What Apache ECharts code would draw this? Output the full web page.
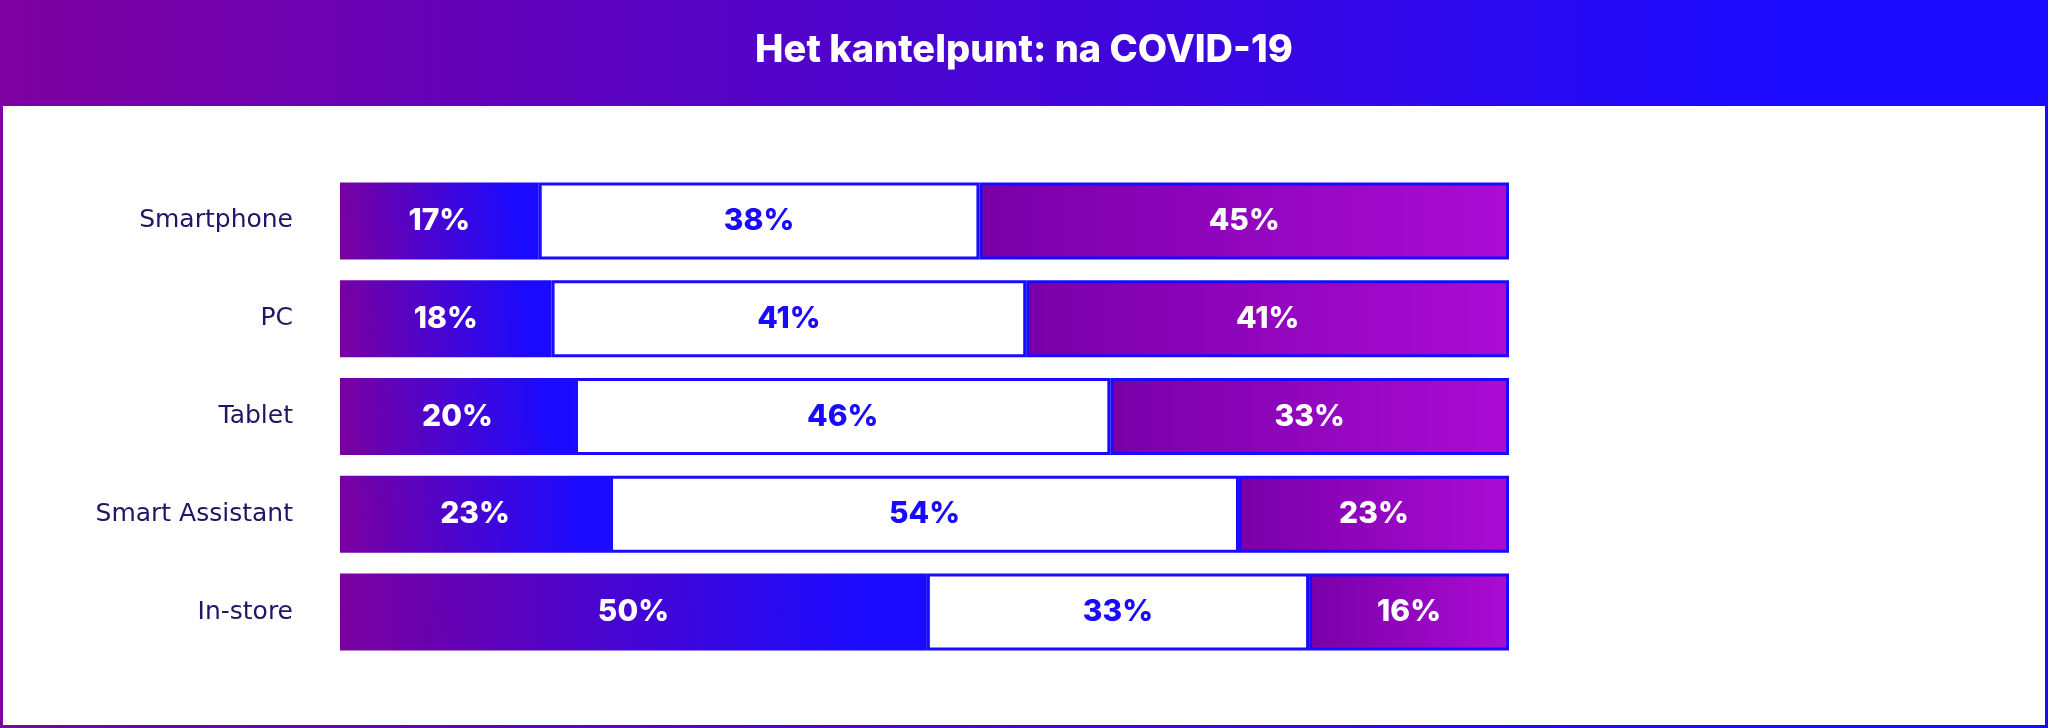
<!DOCTYPE html>
<html>
<head>
<meta charset="utf-8">
<script src="https://cdn.jsdelivr.net/npm/echarts@6/dist/echarts.min.js"></script>
<style>
  html, body { margin: 0; padding: 0; background: #ffffff; }
  #chart { width: 2048px; height: 728px; }
</style>
</head>
<body>
<div id="chart"></div>
<script>
// ---- data ----
const titleText = 'Het kantelpunt: na COVID-19';
const categories = ['Smartphone', 'PC', 'Tablet', 'Smart Assistant', 'In-store'];
// printed percentages
const labelsSeg1 = [17, 18, 20, 23, 50];
const labelsSeg2 = [38, 41, 46, 54, 33];
const labelsSeg3 = [45, 41, 33, 23, 16];
// bar lengths as measured in the picture (share of full bar, %)
const sharesSeg1 = [17.0, 18.1, 20.1, 23.1, 50.2];
const sharesSeg2 = [37.7, 40.6, 45.8, 53.8, 32.7];
const sharesSeg3 = [45.3, 41.3, 34.1, 23.1, 17.1];

// ---- styles ----
const BLUE = '#1A0AFF';
const NAVY = '#1E1666';
const grad = (stops, x, y, x2, y2) => new echarts.graphic.LinearGradient(x, y, x2, y2,
  stops.map(s => ({ offset: s[0], color: s[1] })));

const chart = echarts.init(document.getElementById('chart'), null, { renderer: 'canvas' });

const labelBase = {
  show: true,
  position: 'inside',
  fontFamily: 'Inter, "DejaVu Sans", sans-serif',
  fontWeight: 800,
  fontSize: 30
};

const option = {
  animation: false,
  backgroundColor: '#ffffff',
  grid: { left: 340, right: 539, top: 172, bottom: 67, containLabel: false },
  xAxis: { type: 'value', min: 0, max: 100, show: false },
  yAxis: {
    type: 'category',
    data: categories,
    inverse: true,
    axisLine: { show: false },
    axisTick: { show: false },
    splitLine: { show: false },
    axisLabel: {
      margin: 47,
      color: NAVY,
      fontSize: 25,
      fontFamily: '"DejaVu Sans", sans-serif'
    }
  },
  graphic: [
    {
      type: 'rect', z: -10, silent: true,
      shape: { x: 0, y: 0, width: 2048, height: 106 },
      style: { fill: grad([[0, '#7E00A0'], [0.88, BLUE], [1, BLUE]], 0, 0, 1, 0) }
    },
    {
      type: 'rect', z: 50, silent: true,
      shape: { x: 1.5, y: 1.5, width: 2045, height: 725 },
      style: { fill: 'none', lineWidth: 3, stroke: grad([[0, '#7E00A0'], [0.88, BLUE], [1, BLUE]], 0, 0, 1, 0) }
    },
    {
      type: 'text', z: 100, silent: true,
      x: 1024, y: 51,
      style: {
        text: titleText,
        fill: '#ffffff',
        font: '800 38px Inter, "DejaVu Sans", sans-serif',
        textAlign: 'center',
        textVerticalAlign: 'middle'
      }
    }
  ],
  series: [
    {
      type: 'bar', stack: 'total', barWidth: 77,
      data: sharesSeg1,
      itemStyle: {
        color: grad([[0, '#7A00A0'], [0.9, BLUE], [1, BLUE]], 0, 0.6, 1, 0.4),
        borderWidth: 0
      },
      label: Object.assign({}, labelBase, {
        color: '#ffffff',
        formatter: p => labelsSeg1[p.dataIndex] + '%'
      })
    },
    {
      type: 'bar', stack: 'total', barWidth: 77,
      data: sharesSeg2,
      itemStyle: { color: '#ffffff', borderColor: BLUE, borderWidth: 3 },
      label: Object.assign({}, labelBase, {
        color: BLUE,
        formatter: p => labelsSeg2[p.dataIndex] + '%'
      })
    },
    {
      type: 'bar', stack: 'total', barWidth: 77,
      data: sharesSeg3,
      itemStyle: {
        color: grad([[0, '#7800A8'], [1, '#AC0CD4']], 0, 0, 1, 0),
        borderColor: BLUE, borderWidth: 3
      },
      label: Object.assign({}, labelBase, {
        color: '#ffffff',
        formatter: p => labelsSeg3[p.dataIndex] + '%'
      })
    }
  ]
};
chart.setOption(option);
</script>
</body>
</html>
